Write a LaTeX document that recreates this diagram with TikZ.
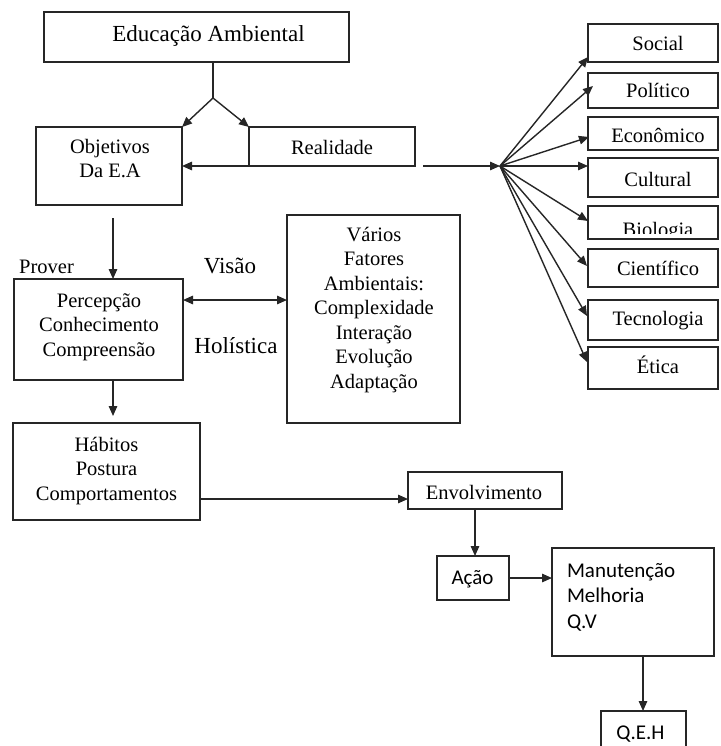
\documentclass[tikz,border=0pt]{standalone}
\usepackage{fontspec}
\setmainfont{Liberation Serif}
\newfontfamily\calfont{Carlito}
\usetikzlibrary{arrows.meta,calc}
\tikzset{
  box/.style={draw=black!85, line width=1.5pt, inner sep=0pt, outer sep=0pt},
  txt/.style={inner sep=0pt, outer sep=0pt, align=center, font=\fontsize{20.5}{24.5}\selectfont},
  ln/.style={draw=black!85, line width=1.4pt},
  arr/.style={ln, -{Triangle[length=10pt,width=8.5pt]}},
  darr/.style={ln, {Triangle[length=10pt,width=8.5pt]}-{Triangle[length=10pt,width=8.5pt]}},
}
\begin{document}
\begin{tikzpicture}[x=1pt,y=-1pt]
\useasboundingbox (0,0) rectangle (720,746);
\clip (0,0) rectangle (720,746);
\fill[white] (0,0) rectangle (720,746);
% boxes
\node[box, minimum width=305pt, minimum height=50pt] (edu) at (196.5,37) {};
\node[box, minimum width=146pt, minimum height=78pt] (obj) at (109,166) {};
\node[box, minimum width=166pt, minimum height=39pt] (real) at (332,146.5) {};
\node[box, minimum width=169pt, minimum height=101pt] (perc) at (98.5,329.5) {};
\node[box, minimum width=173pt, minimum height=208pt] (varios) at (373.5,319) {};
\node[box, minimum width=187pt, minimum height=97pt] (hab) at (106.5,471.5) {};
\node[box, minimum width=154pt, minimum height=37pt] (env) at (485,490.5) {};
\node[box, minimum width=72pt, minimum height=44pt] (acao) at (473,578) {};
\node[box, minimum width=162pt, minimum height=108pt] (manut) at (633,602) {};
\node[box, minimum width=85pt, minimum height=49pt] (qeh) at (643.5,735.5) {};
% right column
\node[box, minimum width=130pt, minimum height=38pt] (soc) at (653,43) {};
\node[box, minimum width=130pt, minimum height=35pt] (pol) at (653,90.5) {};
\node[box, minimum width=130pt, minimum height=33pt] (eco) at (653,133.5) {};
\node[box, minimum width=130pt, minimum height=39pt] (cul) at (653,177.5) {};
\node[box, minimum width=130pt, minimum height=33pt] (bio) at (653,222.5) {};
\node[box, minimum width=130pt, minimum height=38pt] (cie) at (653,268) {};
\node[box, minimum width=130pt, minimum height=40pt] (tec) at (653,320) {};
\node[box, minimum width=130pt, minimum height=42pt] (eti) at (653,368) {};
% texts (multi-line: base = last line)
\node[txt, font=\fontsize{23}{27}\selectfont, anchor=base] (tedu) at (208.5,42) {Educação Ambiental};
\node[txt, font=\fontsize{20.5}{24}\selectfont, anchor=base] (tobj) at (110,178) {Objetivos\\Da E.A};
\node[txt, anchor=base] (treal) at (332,155) {Realidade};
\node[txt, anchor=base] (tprov) at (46.5,273) {Prover};
\node[txt, font=\fontsize{23}{27}\selectfont, anchor=base] (tvis) at (230,273) {Visão};
\node[txt, font=\fontsize{23}{27}\selectfont, anchor=base] (thol) at (236,353) {Holística};
\node[txt, anchor=base] (tperc) at (99,356) {Percepção\\Conhecimento\\Compreensão};
\node[txt, anchor=base] (tvar) at (374,388) {Vários\\Fatores\\Ambientais:\\Complexidade\\Interação\\Evolução\\Adaptação};
\node[txt, anchor=base] (thab) at (106.5,500) {Hábitos\\Postura\\Comportamentos};
\node[txt, anchor=base] (tenv) at (484,499) {Envolvimento};
\node[txt, font=\calfont\fontsize{21}{25.5}\selectfont, anchor=base] (tacao) at (472.5,584) {Ação};
\node[txt, font=\calfont\fontsize{21}{25.5}\selectfont, align=left, anchor=base west] (tman) at (567,628) {Manutenção\\Melhoria\\Q.V};
\node[txt, font=\calfont\fontsize{21}{25.5}\selectfont, anchor=base] (tqeh) at (640.5,739) {Q.E.H};
\node[txt, anchor=base] (tsoc) at (658,51) {Social};
\node[txt, anchor=base] (tpol) at (658,98) {Político};
\node[txt, anchor=base] (teco) at (658,143) {Econômico};
\node[txt, anchor=base] (tcul) at (658,186) {Cultural};
\begin{scope}
\clip (590,207) rectangle (716,233);
\node[txt, anchor=base] (tbio) at (658,236) {Biologia};
\end{scope}
\node[txt, anchor=base] (tcie) at (658,275) {Científico};
\node[txt, anchor=base] (ttec) at (658,325) {Tecnologia};
\node[txt, anchor=base] (teti) at (658,373) {Ética};
% connectors
\coordinate (j) at (213,98);
\draw[ln] (edu.south -| j) -- (j);
\draw[arr] (j) -- (obj.north east);
\draw[arr] (j) -- (real.north west);
\draw[arr] (real.south west) -- (real.south west -| obj.east);
\coordinate (rs) at (423,166);
\coordinate (hub) at (500,166);
\draw[arr] (rs) -- (hub);
\draw[arr] (hub) -- ([yshift=-14pt]soc.west);
\draw[arr] (hub) -- ([xshift=5pt,yshift=4.5pt]pol.west);
\draw[arr] (hub) -- ([xshift=1pt,yshift=-3.5pt]eco.west);
\draw[arr] (hub) -- ([yshift=11.5pt]cul.west);
\draw[arr] (hub) -- ([yshift=1.5pt]bio.west);
\draw[arr] (hub) -- ([xshift=-1pt,yshift=2pt]cie.west);
\draw[arr] (hub) -- ([xshift=-1pt,yshift=4pt]tec.west);
\draw[arr] (hub) -- ([xshift=-1pt,yshift=6pt]eti.west);
\coordinate (op) at (113,218);
\draw[arr] (op) -- (op |- perc.north);
\coordinate (vh) at (230,300);
\draw[darr] (perc.east |- vh) -- (varios.west |- vh);
\coordinate (ph) at (113,416);
\draw[arr] (ph |- perc.south) -- (ph);
\coordinate (he) at (300,499);
\draw[arr] (hab.east |- he) -- (env.west |- he);
\coordinate (ea) at (475,520);
\draw[arr] (env.south -| ea) -- (acao.north -| ea);
\draw[arr] (acao.east) -- (manut.west |- acao.east);
\coordinate (mq) at (643,680);
\draw[arr] (manut.south -| mq) -- (qeh.north -| mq);
\end{tikzpicture}
\end{document}
